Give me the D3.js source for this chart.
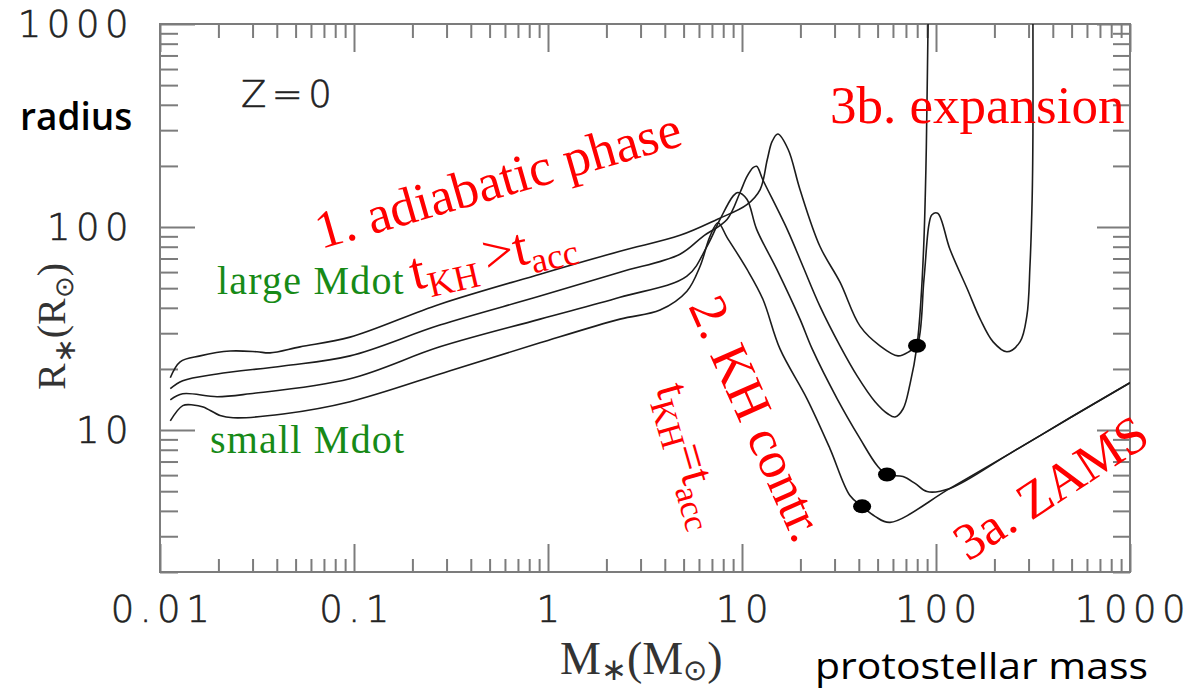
<!DOCTYPE html>
<html>
<head>
<meta charset="utf-8">
<script src="https://cdn.jsdelivr.net/npm/d3@7"></script>
<style>
  body { margin: 0; background: #fff; }
  svg { display: block; }
</style>
</head>
<body>
<svg id="chart" width="1195" height="690"></svg>
<script>
// Protostellar evolution at Z = 0: stellar radius [Rsun] vs. protostellar mass [Msun]
// for four accretion rates, from the largest (top track) to the smallest (bottom track).
const trackHighest = [
  [0.0113,18.1],[0.0127,21.7],[0.0161,23.2],[0.0230,24.5],[0.0316,24.3],[0.0369,24.0],
  [0.0527,25.7],[0.0954,28.7],[0.277,41.7],[0.910,58.6],[2.35,76.0],[4.79,91.0],
  [7.43,109],[10.6,129],[12.4,153],[13.5,215],[14.3,264],[15.3,287],[17.3,241],
  [19.9,153],[25.2,80.4],[32.0,53.5],[40.6,32.5],[51.4,26.0],[63.7,23.2],[73.5,24.5],
  [79.8,26.0],[86.7,55.4],[92.0,103],[95.3,115],[102,117],[118,77.7],[145,49.5],
  [169,35.2],[197,27.2],[232,24.3],[271,27.2],[294,36.5],[305,64.1],[313,137],
  [316,290],[316,1000]
];
const trackHigh = [
  [0.0113,16.0],[0.0131,17.5],[0.0197,18.9],[0.0431,20.7],[0.0954,23.2],[0.277,32.9],
  [0.910,45.7],[2.35,59.9],[4.79,73.5],[6.30,90.0],[8.37,109],[9.77,148],[10.6,177],
  [11.4,196],[11.9,199],[12.8,171],[17.1,97.4],[20.6,64.1],[25.2,40.8],[32.0,26.0],
  [39.2,18.5],[48.5,13.8],[56.6,12.0],[61.5,11.6],[67.6,12.7],[73.5,16.9],[79.8,26.0],
  [83.7,44.2],[86.7,87.1],[88.7,192],[89.9,424],[91.0,1000]
];
const trackLow = [
  [0.0113,14.1],[0.0131,15.1],[0.0197,14.6],[0.0291,15.1],[0.0954,17.9],[0.277,25.7],
  [0.910,35.2],[2.35,45.1],[5.20,57.3],[6.60,80.4],[7.70,109],[8.99,142],[9.53,148],
  [10.6,137],[11.9,97.4],[15.1,62.0],[19.9,35.2],[23.0,25.1],[30.9,14.3],[40.6,9.07],
  [49.7,6.69],[55.9,6.04],[67.6,5.90],[78.0,5.46],[89.9,4.98],[118,5.16],[240,7.66],
  [491,11.5],[1000,17.1]
];
const trackLowest = [
  [0.0113,11.1],[0.0131,13.2],[0.0148,13.3],[0.0167,13.0],[0.0204,11.8],[0.0238,11.5],
  [0.0431,12.0],[0.0954,13.8],[0.313,19.6],[0.910,26.9],[2.35,35.2],[3.78,39.0],
  [5.20,48.3],[6.08,64.1],[6.84,90.0],[7.52,105],[8.37,89.0],[10.6,62.0],[12.8,44.2],
  [15.7,25.1],[21.6,14.3],[28.4,8.11],[36.0,4.76],[41.6,4.21],[48.5,3.76],[57.9,3.51],
  [118,5.16],[240,7.66],[491,11.5],[1000,17.1]
];
// points where the tracks reach t_KH = t_acc
const kelvinHelmholtzPoints = [[41.6,4.21],[55.9,6.04],[79.8,26.0]];

const xTickValues = [0.01, 0.1, 1, 10, 100, 1000];
const xTickLabels = ["0.01", "0.1", "1", "10", "100", "1000"];
const yTickValues = [10, 100, 1000];
const yTickLabels = ["10", "100", "1000"];

const svg = d3.select("#chart");
const plotLeft = 160, plotRight = 1130, plotTop = 24, plotBottom = 572;
const x = d3.scaleLog().domain([0.01, 1000]).range([plotLeft, plotRight]);
const y = d3.scaleLog().domain([2, 1000]).range([plotBottom, plotTop]);

const axisColor = "#7c7c7c";
const tickFont = "'DejaVu Sans', sans-serif";

// minor ticks: 2..9 within every decade
const minorX = [], minorY = [];
[0.01, 0.1, 1, 10, 100].forEach(d => { for (let k = 2; k <= 9; k++) minorX.push(+(d * k).toPrecision(3)); });
[1, 10, 100].forEach(d => { for (let k = 2; k <= 9; k++) { const v = d * k; if (v >= 2) minorY.push(v); } });

function tickLayer(axisGen, values, size, translate) {
  svg.append("g")
    .attr("transform", translate)
    .call(axisGen.tickValues(values).tickSize(size).tickSizeOuter(0).tickFormat(""))
    .call(g => g.select(".domain").remove())
    .call(g => g.selectAll("line").attr("stroke", axisColor).attr("stroke-width", 2));
}
tickLayer(d3.axisBottom(x), minorX, -13, `translate(0,${plotBottom})`);
tickLayer(d3.axisBottom(x), xTickValues, -28, `translate(0,${plotBottom})`);
tickLayer(d3.axisTop(x), minorX, -14, `translate(0,${plotTop})`);
tickLayer(d3.axisTop(x), xTickValues, -28, `translate(0,${plotTop})`);
tickLayer(d3.axisLeft(y), minorY, -18, `translate(${plotLeft},0)`);
tickLayer(d3.axisLeft(y), yTickValues, -35, `translate(${plotLeft},0)`);
tickLayer(d3.axisRight(y), minorY, -17, `translate(${plotRight},0)`);
tickLayer(d3.axisRight(y), yTickValues, -33, `translate(${plotRight},0)`);

svg.append("rect")
  .attr("x", plotLeft).attr("y", plotTop)
  .attr("width", plotRight - plotLeft).attr("height", plotBottom - plotTop)
  .attr("fill", "none").attr("stroke", axisColor).attr("stroke-width", 2);

// tick labels (thin sans, lightly stroked)
function tickText(sel) {
  sel.attr("font-family", tickFont).attr("font-size", 37).attr("font-weight", 200)
    .attr("letter-spacing", 5.5).attr("fill", "#222")
    .attr("stroke", "#222").attr("stroke-width", 0.6);
}
svg.append("g").selectAll("text").data(xTickValues).join("text")
  .attr("x", d => x(d) + 3).attr("y", 622)
  .attr("text-anchor", "middle")
  .call(tickText)
  .text((d, i) => xTickLabels[i]);
svg.append("g").selectAll("text").data(yTickValues).join("text")
  .attr("x", 134).attr("y", d => y(d) + 13)
  .attr("text-anchor", "end")
  .call(tickText)
  .text((d, i) => yTickLabels[i]);

// tracks
svg.append("clipPath").attr("id", "plot-clip")
  .append("rect").attr("x", plotLeft).attr("y", plotTop)
  .attr("width", plotRight - plotLeft).attr("height", plotBottom - plotTop);
const line = d3.line().x(d => x(d[0])).y(d => y(d[1])).curve(d3.curveCatmullRom.alpha(0.5));
const tracks = svg.append("g").attr("clip-path", "url(#plot-clip)");
[trackHighest, trackHigh, trackLow, trackLowest].forEach(t => {
  tracks.append("path").attr("d", line(t))
    .attr("fill", "none").attr("stroke", "#1c1c1c").attr("stroke-width", 1.6);
});
tracks.selectAll("ellipse").data(kelvinHelmholtzPoints).join("ellipse")
  .attr("cx", d => x(d[0])).attr("cy", d => y(d[1]))
  .attr("rx", 9).attr("ry", 7).attr("fill", "#000");

// axis titles and labels
const serif = "'Liberation Serif', 'Times New Roman', serif";
const mLabel = svg.append("text").attr("x", 560).attr("y", 674)
  .attr("font-family", serif).attr("font-size", 46).attr("fill", "#333");
mLabel.append("tspan").text("M");
mLabel.append("tspan").attr("font-size", 31).attr("dy", 6).text("∗");
mLabel.append("tspan").attr("dy", -6).text("(M");
mLabel.append("tspan").attr("font-size", 29).attr("dy", 6).text("⊙");
mLabel.append("tspan").attr("dy", -6).text(")");

const rLabel = svg.append("text").attr("transform", "translate(65,390) rotate(-90)")
  .attr("font-family", serif).attr("font-size", 40).attr("fill", "#333");
rLabel.append("tspan").text("R");
rLabel.append("tspan").attr("font-size", 30).attr("dy", 10).text("∗");
rLabel.append("tspan").attr("dy", -10).text("(R");
rLabel.append("tspan").attr("font-size", 26).attr("dy", 8).text("⊙");
rLabel.append("tspan").attr("dy", -8).text(")");

svg.append("text").attr("x", 815).attr("y", 679)
  .attr("font-family", "'Open Sans', sans-serif").attr("font-size", 37).attr("fill", "#000")
  .attr("textLength", 333).attr("lengthAdjust", "spacingAndGlyphs")
  .text("protostellar mass");
svg.append("text").attr("x", 20).attr("y", 130)
  .attr("font-family", "'Open Sans', sans-serif").attr("font-size", 37).attr("font-weight", 600).attr("fill", "#000")
  .text("radius");
svg.append("text").attr("x", 241).attr("y", 107)
  .call(tickText)
  .text("Z=0");

// accretion-rate labels
const green = "#178a17";
svg.append("text").attr("x", 217).attr("y", 294)
  .attr("font-family", serif).attr("font-size", 40).attr("letter-spacing", 1.2).attr("fill", green)
  .text("large Mdot");
svg.append("text").attr("x", 210).attr("y", 453)
  .attr("font-family", serif).attr("font-size", 40).attr("letter-spacing", 1.2).attr("fill", green)
  .text("small Mdot");

// evolutionary phases
const red = "#ff0000";
function phase(transform, size) {
  return svg.append("text").attr("transform", transform)
    .attr("font-family", serif).attr("font-size", size).attr("fill", red);
}
phase("translate(321,249) rotate(-16)", 53).text("1. adiabatic phase");
const t1 = phase("translate(414,290) rotate(-13)", 54);
t1.append("tspan").text("t");
t1.append("tspan").attr("font-size", 36).attr("dy", 11).text("KH");
t1.append("tspan").attr("dy", -11).attr("dx", 8).text(">t");
t1.append("tspan").attr("font-size", 36).attr("dy", 11).text("acc");

phase("translate(688,306) rotate(66)", 53).text("2. KH contr.");
const t2 = phase("translate(656,388) rotate(74)", 48);
t2.append("tspan").text("t");
t2.append("tspan").attr("font-size", 34).attr("dy", 10).text("KH");
t2.append("tspan").attr("dy", -10).text("=t");
t2.append("tspan").attr("font-size", 34).attr("dy", 10).text("acc");

phase("translate(830,123)", 53).text("3b. expansion");
phase("translate(968,562) rotate(-33)", 52).text("3a. ZAMS");
</script>
</body>
</html>
